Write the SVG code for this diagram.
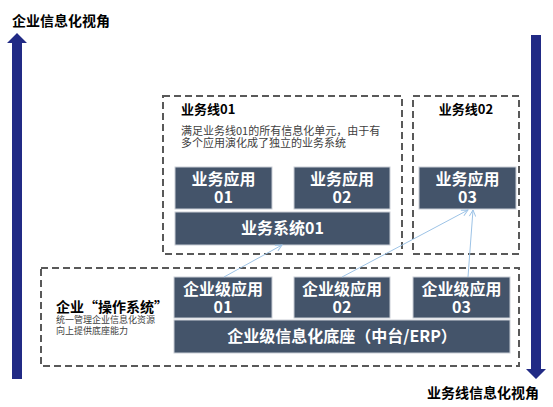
<svg xmlns="http://www.w3.org/2000/svg" width="553" height="407" viewBox="0 0 553 407">
<style>
text{font-family:"Noto Sans CJK SC","Noto Sans",sans-serif;}
.title{font-size:14px;font-weight:bold;fill:#000;}
.h{font-size:13px;font-weight:bold;fill:#000;}
.desc{font-size:11px;fill:#404040;}
.desc2{font-size:9px;fill:#404040;}
.box{fill:#44546a;stroke:#c9ced6;stroke-width:1;}
.bt{font-size:16px;font-weight:bold;fill:#fff;text-anchor:middle;}
.dash{fill:none;stroke:#595959;stroke-width:2;stroke-dasharray:7 4;}
.big{fill:#212a85;}
.conn{fill:none;stroke:#9dc3e6;stroke-width:1;marker-end:url(#ah);}
</style>
<defs>
<marker id="ah" viewBox="0 0 10 10" refX="9" refY="5" markerWidth="8" markerHeight="8" orient="auto" markerUnits="userSpaceOnUse">
<path d="M1,1 L9,5 L1,9" fill="none" stroke="#9dc3e6" stroke-width="1.2"/>
</marker>
</defs>
<rect width="553" height="407" fill="#fff"/>

<g id="axis-left">
<polygon class="big" points="17,33 27,43 22,43 22,379 12,379 12,43 7,43"/>
<text class="title" x="12" y="26">企业信息化视角</text>
</g>
<g id="axis-right">
<polygon class="big" points="531,35 541,35 541,369 546,369 536,379 526,369 531,369"/>
<text class="title" x="427" y="398">业务线信息化视角</text>
</g>

<g id="line01">
<rect class="dash" x="163" y="96" width="239" height="158"/>
<text class="h" x="181" y="114">业务线01</text>
<text class="desc"><tspan x="181" y="135">满足业务线01的所有信息化单元，由于有</tspan><tspan x="181" y="147">多个应用演化成了独立的业务系统</tspan></text>
</g>
<g id="app01">
<rect class="box" x="175" y="167" width="97" height="42"/>
<text class="bt"><tspan x="223.5" y="185">业务应用</tspan><tspan x="223.5" y="203">01</tspan></text>
</g>
<g id="app02">
<rect class="box" x="294" y="167" width="96" height="42"/>
<text class="bt"><tspan x="342" y="185">业务应用</tspan><tspan x="342" y="203">02</tspan></text>
</g>
<g id="sys01">
<rect class="box" x="175" y="212" width="215" height="33"/>
<text class="bt" x="282.5" y="234">业务系统01</text>
</g>

<g id="line02">
<rect class="dash" x="413" y="96" width="106" height="158"/>
<text class="h" x="466" y="114" text-anchor="middle">业务线02</text>
</g>
<g id="app03">
<rect class="box" x="419" y="167" width="97" height="42"/>
<text class="bt"><tspan x="467.5" y="185">业务应用</tspan><tspan x="467.5" y="203">03</tspan></text>
</g>

<g id="os">
<rect class="dash" x="41" y="268" width="478" height="98"/>
<text x="56" y="312" style="font-size:14px;font-weight:bold;fill:#000;">企业“操作系统”</text>
<text class="desc2"><tspan x="56" y="323">统一管理企业信息化资源</tspan><tspan x="56" y="334">向上提供底座能力</tspan></text>
</g>
<g id="eapp01">
<rect class="box" x="174" y="277" width="98" height="41"/>
<text class="bt"><tspan x="223" y="295">企业级应用</tspan><tspan x="223" y="313">01</tspan></text>
</g>
<g id="eapp02">
<rect class="box" x="294" y="277" width="96" height="41"/>
<text class="bt"><tspan x="342" y="295">企业级应用</tspan><tspan x="342" y="313">02</tspan></text>
</g>
<g id="eapp03">
<rect class="box" x="413" y="277" width="97" height="41"/>
<text class="bt"><tspan x="461.5" y="295">企业级应用</tspan><tspan x="461.5" y="313">03</tspan></text>
</g>
<g id="base">
<rect class="box" x="174" y="320" width="336" height="33"/>
<text class="bt" x="342" y="342">企业级信息化底座（中台/ERP）</text>
</g>

<g id="connectors">
<line class="conn" x1="224" y1="277" x2="282" y2="245"/>
<line class="conn" x1="342" y1="277" x2="468" y2="210"/>
<line class="conn" x1="468" y1="277" x2="473" y2="210"/>
</g>
</svg>
